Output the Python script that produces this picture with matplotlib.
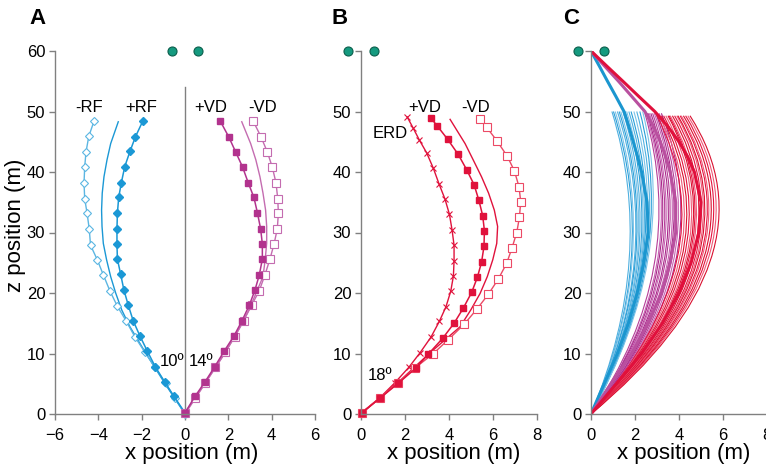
import matplotlib
matplotlib.use("Agg")
import matplotlib.pyplot as plt
from matplotlib.path import Path
from matplotlib.patches import PathPatch

plt.rcParams["font.family"] = ["Liberation Sans", "DejaVu Sans"]

# ---- panel A : sidespin (RF) and topspin (VD) trajectories ----
a_mrf_z = [0, 2.6, 5.1, 7.7, 10.2, 12.8, 15.4, 17.8, 20.3, 23.0, 25.5, 27.9, 30.6, 33.2, 35.6, 38.2, 40.8, 43.3, 45.9, 48.4]
a_mrf_x = [0, -0.45, -0.9, -1.38, -1.85, -2.32, -2.72, -3.12, -3.46, -3.77, -4.05, -4.36, -4.42, -4.52, -4.63, -4.66, -4.63, -4.57, -4.44, -4.2]
a_prf_z = [0.2, 2.9, 5.3, 7.8, 10.4, 12.9, 15.4, 18.0, 20.5, 23.1, 25.6, 28.1, 30.6, 33.2, 35.8, 38.2, 40.9, 43.4, 45.8, 48.4]
a_prf_x = [0, -0.51, -0.94, -1.37, -1.74, -2.08, -2.39, -2.62, -2.82, -2.97, -3.12, -3.14, -3.14, -3.12, -3.06, -2.94, -2.78, -2.54, -2.29, -1.95]
a_rf0_z = [0, 5, 10, 14.4, 17.2, 20, 22.7, 25.5, 28.2, 31, 33.7, 36.5, 39.2, 42, 44.7, 48.3]
a_rf0_x = [0, -0.92, -1.8, -2.54, -2.92, -3.2, -3.43, -3.62, -3.77, -3.83, -3.85, -3.82, -3.74, -3.6, -3.43, -3.08]
a_pvd_z = [0.2, 2.9, 5.3, 7.8, 10.4, 12.9, 15.4, 18.0, 20.5, 23.0, 25.6, 28.1, 30.6, 33.3, 35.8, 38.2, 40.8, 43.3, 45.8, 48.4]
a_pvd_x = [0, 0.46, 0.92, 1.37, 1.81, 2.26, 2.63, 2.97, 3.23, 3.43, 3.57, 3.57, 3.49, 3.34, 3.18, 2.92, 2.66, 2.34, 2.02, 1.63]
a_mvd_z = [0.2, 2.7, 5.2, 7.7, 10.2, 12.8, 15.4, 18.0, 20.4, 23.0, 25.6, 28.1, 30.6, 33.2, 35.6, 38.2, 40.8, 43.3, 45.8, 48.4]
a_mvd_x = [0, 0.47, 0.94, 1.4, 1.86, 2.3, 2.7, 3.08, 3.43, 3.69, 3.92, 4.11, 4.26, 4.31, 4.28, 4.2, 4.03, 3.8, 3.51, 3.15]
a_vd0_z = [0, 5, 10, 14.4, 17.2, 20, 22.7, 25.5, 28.2, 31, 33.7, 36.5, 39.2, 42, 44.7, 48.3]
a_vd0_x = [0, 0.92, 1.83, 2.55, 2.95, 3.28, 3.6, 3.7, 3.77, 3.77, 3.72, 3.6, 3.46, 3.27, 3.03, 2.62]

# ---- panel B : combined spin ----
b_erd_z = [0.2, 2.7, 5.2, 7.7, 10.1, 12.7, 15.3, 17.7, 20.3, 22.8, 25.3, 27.9, 30.4, 33.0, 35.5, 38.0, 40.6, 43.2, 45.3, 47.2, 49.1]
b_erd_x = [0.03, 0.86, 1.55, 2.17, 2.68, 3.18, 3.56, 3.86, 4.08, 4.2, 4.23, 4.23, 4.14, 4.02, 3.82, 3.55, 3.29, 2.98, 2.65, 2.38, 2.1]
b_pvd_z = [0.2, 2.6, 5.1, 7.6, 9.9, 12.5, 15.0, 17.5, 20.1, 22.6, 25.1, 27.7, 30.3, 32.8, 35.3, 37.9, 40.4, 42.9, 45.4, 47.6, 48.9]
b_pvd_x = [0.03, 0.86, 1.7, 2.5, 3.06, 3.71, 4.23, 4.65, 5.03, 5.29, 5.48, 5.59, 5.61, 5.53, 5.36, 5.14, 4.8, 4.42, 3.94, 3.47, 3.18]
b_mvd_z = [0.2, 2.7, 5.1, 7.6, 9.9, 12.3, 14.8, 17.3, 19.8, 22.3, 24.9, 27.4, 30.0, 32.5, 35.1, 37.6, 40.2, 42.6, 45.2, 47.4, 48.7]
b_mvd_x = [0.03, 0.86, 1.67, 2.45, 3.26, 3.97, 4.68, 5.26, 5.79, 6.24, 6.62, 6.86, 7.08, 7.2, 7.26, 7.18, 6.97, 6.65, 6.17, 5.71, 5.41]
b_vd0_z = [0, 5, 10, 14.4, 17.2, 19.9, 22.7, 25.5, 28.2, 31, 33.7, 36.5, 39.2, 42, 44.7, 48.7]
b_vd0_x = [0, 1.62, 3.1, 4.5, 4.99, 5.41, 5.74, 5.99, 6.17, 6.21, 6.06, 5.8, 5.48, 5.1, 4.73, 4.05]

# ---- panel C : bundles of simulated kicks (quadratic bezier: start, control, end) ----
c_blue_cz, c_blue_ze = 26, 50.0
c_blue_cx = [3.0, 3.15, 3.2, 3.35, 3.4, 3.5, 3.55, 3.65, 3.7, 3.75, 3.8, 3.85, 3.9, 3.95, 4.0]
c_blue_xe = [0.95, 1.02, 1.1, 1.2, 1.28, 1.35, 1.45, 1.55, 1.62, 1.72, 1.82, 1.95, 2.08, 2.22, 2.35]
c_mag_cz, c_mag_ze = 24, 49.7
c_mag_cx = [4.5, 4.7, 4.8, 4.95, 5.05, 5.2, 5.3, 5.45, 5.55, 5.7, 5.85, 6.0]
c_mag_xe = [2.45, 2.5, 2.55, 2.6, 2.65, 2.72, 2.8, 2.88, 2.95, 3.02, 3.1, 3.2]
c_red_cz, c_red_ze = 26, 49.3
c_red_cx = [6.3, 6.45, 6.6, 6.75, 6.9, 7.0, 7.1, 7.2, 7.35, 7.5, 7.6, 7.7, 7.85, 7.95, 8.1, 8.25, 8.4, 8.6]
c_red_xe = [3.0, 3.1, 3.2, 3.3, 3.4, 3.5, 3.55, 3.6, 3.7, 3.8, 3.9, 3.95, 4.05, 4.1, 4.2, 4.3, 4.4, 4.5]

# mean trajectories from launch to goal
c_mean_z = [0, 5, 10, 15, 20, 25, 30, 35, 40, 42.5, 45, 47.5, 50, 52.5, 55, 57.5, 60]
c_mean_blue = [0, 0.6, 1.2, 1.7, 2.1, 2.4, 2.6, 2.55, 2.3, 2.12, 1.92, 1.72, 1.5, 1.13, 0.75, 0.38, 0]
c_mean_mag = [0, 0.9, 1.85, 2.6, 3.2, 3.6, 3.85, 3.85, 3.6, 3.4, 3.15, 2.85, 2.45, 1.85, 1.25, 0.62, 0]
c_mean_red = [0, 1.15, 2.3, 3.25, 4.0, 4.55, 4.9, 5.0, 4.7, 4.4, 4.0, 3.5, 2.9, 2.17, 1.45, 0.72, 0]

posts_x = [-0.6, 0.6]
posts_z = [60, 60]

BLUE = "#1b98d5"
LBLUE = "#5cb6e2"
MAG = "#b2338e"
LMAG = "#c46cb0"
RED = "#e0123c"
LRED = "#ec4a66"
GRAY = "#808080"

fig = plt.figure(figsize=(7.66, 4.66), dpi=100)
W, H = 766, 466


def make_ax(left_px, width_px):
    ax = fig.add_axes([left_px / W, 52 / H, width_px / W, 363 / H])
    for s in ["top", "right"]:
        ax.spines[s].set_visible(False)
    for s in ["left", "bottom"]:
        ax.spines[s].set_color(GRAY)
        ax.spines[s].set_linewidth(1.0)
    ax.tick_params(colors=GRAY, labelcolor="black", labelsize=12, length=4, width=1)
    ax.tick_params(axis="x", pad=6)
    ax.tick_params(axis="y", pad=3)
    ax.set_ylim(0, 60)
    ax.set_xlabel("x position (m)", fontsize=16)
    ax.xaxis.label.set_va("center")
    ax.xaxis.set_label_coords(0.525, -0.11)
    ax.plot(posts_x, posts_z, "o", color="#159a7f", mec="#0b5e4c", ms=6.5,
            mew=0.8, clip_on=False, zorder=5)
    return ax


# panel A
axA = make_ax(55, 260)
axA.set_xlim(-6, 6)
axA.set_xticks([-6, -4, -2, 0, 2, 4, 6])
axA.set_yticks([0, 10, 20, 30, 40, 50, 60])
axA.set_ylabel("z position (m)", fontsize=16)
axA.yaxis.label.set_va("center")
axA.yaxis.set_label_coords(-0.15, 0.52)
axA.plot([0, 0], [0, 54], color=GRAY, lw=1.0)
axA.plot(a_rf0_x, a_rf0_z, color=BLUE, lw=1.0)
axA.plot(a_mrf_x, a_mrf_z, color=LBLUE, lw=1.0, marker="D", ms=3.8,
         mfc="white", mec=LBLUE, mew=0.8, clip_on=False)
axA.plot(a_prf_x, a_prf_z, color=BLUE, lw=1.1, marker="D", ms=4.2,
         mfc=BLUE, mec=BLUE, clip_on=False)
axA.plot(a_vd0_x, a_vd0_z, color=LMAG, lw=1.0)
axA.plot(a_mvd_x, a_mvd_z, color=LMAG, lw=1.0, marker="s", ms=5.2,
         mfc="white", mec=LMAG, mew=0.8, clip_on=False)
axA.plot(a_pvd_x, a_pvd_z, color=MAG, lw=1.1, marker="s", ms=5.0,
         mfc=MAG, mec=MAG, clip_on=False)
for txt, x, z in [("-RF", -4.43, 50.6), ("+RF", -2.0, 50.6),
                  ("+VD", 1.18, 50.6), ("-VD", 3.58, 50.6),
                  ("10º", -0.61, 8.6), ("14º", 0.76, 8.6)]:
    axA.text(x, z, txt, fontsize=12, ha="center", va="center")
axA.text(-0.1, 1.06, "A", transform=axA.transAxes, fontsize=16,
         fontweight="bold", ha="left", va="bottom")

# panel B
axB = make_ax(361, 176)
axB.set_xlim(0, 8)
axB.set_xticks([0, 2, 4, 6, 8])
axB.set_yticks([0, 10, 20, 30, 40, 50, 60])
axB.set_yticklabels(["0", "10", "20", "30", "40", "50", ""])
axB.plot(b_vd0_x, b_vd0_z, color=RED, lw=1.0)
axB.plot(b_erd_x, b_erd_z, color=RED, lw=1.0, marker="x", ms=4,
         mew=0.8, clip_on=False)
axB.plot(b_mvd_x, b_mvd_z, color=LRED, lw=1.0, marker="s", ms=5.2,
         mfc="white", mec=LRED, mew=0.8, clip_on=False)
axB.plot(b_pvd_x, b_pvd_z, color=RED, lw=1.1, marker="s", ms=5.0,
         mfc=RED, mec=RED, clip_on=False)
for txt, x, z in [("+VD", 2.89, 50.7), ("-VD", 5.23, 50.7),
                  ("ERD", 1.32, 46.4), ("18º", 0.86, 6.4)]:
    axB.text(x, z, txt, fontsize=12, ha="center", va="center")
axB.text(-0.165, 1.06, "B", transform=axB.transAxes, fontsize=16,
         fontweight="bold", ha="left", va="bottom")

# panel C
axC = make_ax(591, 176)
axC.set_xlim(0, 8)
axC.set_xticks([0, 2, 4, 6, 8])
axC.set_yticks([0, 10, 20, 30, 40, 50, 60])
axC.set_yticklabels(["0", "10", "20", "30", "40", "50", ""])

codes = [Path.MOVETO, Path.CURVE3, Path.CURVE3]
groups = [
    (c_blue_cx, c_blue_xe, c_blue_cz, c_blue_ze, ["#4fb0e0", "#2a9fd8", "#7cc3e8"]),
    (c_mag_cx, c_mag_xe, c_mag_cz, c_mag_ze, ["#b53d98", "#c763b3", "#a8288a"]),
    (c_red_cx, c_red_xe, c_red_cz, c_red_ze, ["#e5133f", "#ef5a78", "#d9102f"]),
]
for cxs, xes, cz, ze, shades in groups:
    for i, (cx, xe) in enumerate(zip(cxs, xes)):
        p = Path([(0, 0), (cx, cz), (xe, ze)], codes)
        axC.add_patch(PathPatch(p, fill=False, edgecolor=shades[i % 3], lw=0.8))

axC.plot(c_mean_blue, c_mean_z, color="#1b96cf", lw=2.2, solid_capstyle="round")
axC.plot(c_mean_mag, c_mean_z, color="#b9509f", lw=2.2, solid_capstyle="round")
axC.plot(c_mean_red, c_mean_z, color="#e0103c", lw=2.2, solid_capstyle="round")
axC.text(-0.159, 1.06, "C", transform=axC.transAxes, fontsize=16,
         fontweight="bold", ha="left", va="bottom")

fig.savefig("out.png", dpi=100)
